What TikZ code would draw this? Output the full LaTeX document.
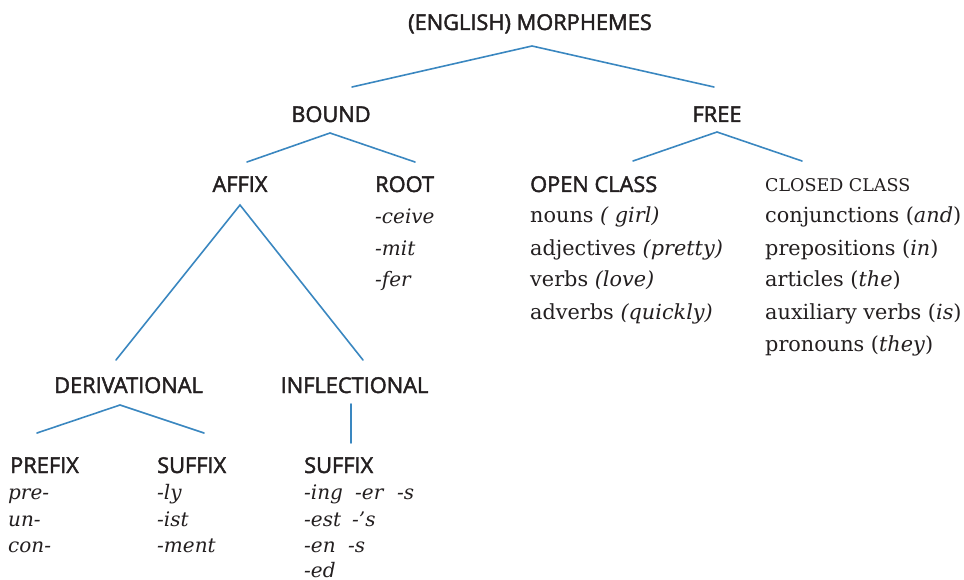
\documentclass[tikz,border=0pt]{standalone}
\usepackage{fontspec}
\setmainfont{DejaVu Serif}
\newfontfamily\headfam{Open Sans}[FakeBold=2]
\definecolor{ink}{HTML}{231F20}
\definecolor{linkblue}{HTML}{3A87C0}
\tikzset{
  head/.style={font=\headfam\fontsize{21.8}{26}\selectfont, text=ink, inner sep=0pt, anchor=base},
  headl/.style={head, anchor=base west},
  txt/.style={font=\fontsize{20.8}{24}\selectfont, text=ink, inner sep=0pt, anchor=base west},
  ex/.style={txt, font=\fontsize{20}{24}\selectfont\itshape},
  link/.style={draw=linkblue, line width=1.6pt, line cap=round},
}
\begin{document}
\begin{tikzpicture}[x=1pt,y=-1pt]
\useasboundingbox (0,0) rectangle (964,580);
% headings
\node[head] (title) at (530,30) {(ENGLISH) MORPHEMES};
\node[head] (bound) at (331,122) {BOUND};
\node[head] (free) at (717,122) {FREE};
\node[head] (affix) at (240,192) {AFFIX};
\node[headl] (root) at (375,192) {ROOT};
\node[headl] (open) at (530,192) {OPEN CLASS};
\node[txt, font=\fontsize{17.5}{22}\selectfont] (closed) at (765,192) {CLOSED CLASS};
\node[head] (deriv) at (128.5,393) {DERIVATIONAL};
\node[head] (infl) at (354.5,393) {INFLECTIONAL};
\node[headl] (prefix) at (10,473) {PREFIX};
\node[headl] (dsuffix) at (157,473) {SUFFIX};
\node[headl] (isuffix) at (304,473) {SUFFIX};
% root examples
\node[ex] (r1) at (375,224) {-ceive};
\node[ex] (r2) at (375,255) {-mit};
\node[ex] (r3) at (375,287) {-fer};
% open class
\node[txt] (o1) at (530,223) {nouns \textit{( girl)}};
\node[txt] (o2) at (530,255) {adjectives \textit{(pretty)}};
\node[txt] (o3) at (530,287) {verbs \textit{(love)}};
\node[txt] (o4) at (530,319) {adverbs \textit{(quickly)}};
% closed class
\node[txt] (c1) at (765,223) {conjunctions (\textit{and})};
\node[txt] (c2) at (765,255) {prepositions (\textit{in})};
\node[txt] (c3) at (765,287) {articles (\textit{the})};
\node[txt] (c4) at (765,319) {auxiliary verbs (\textit{is})};
\node[txt] (c5) at (765,351) {pronouns (\textit{they})};
% prefixes
\node[ex] (p1) at (8,499) {pre-};
\node[ex] (p2) at (8,526) {un-};
\node[ex] (p3) at (8,552) {con-};
% derivational suffixes
\node[ex] (s1) at (157,499) {-ly};
\node[ex] (s2) at (157,526) {-ist};
\node[ex] (s3) at (157,552) {-ment};
% inflectional suffixes
\node[ex] (i1) at (304,499) {-ing};
\node[ex] (i2) at (355,499) {-er};
\node[ex] (i3) at (397,499) {-s};
\node[ex] (i4) at (304,526) {-est};
\node[ex] (i5) at (352,526) {-’s};
\node[ex] (i6) at (304,552) {-en};
\node[ex] (i7) at (348,552) {-s};
\node[ex] (i8) at (304,577) {-ed};
% connector points
\coordinate (tA) at (532,46);  \coordinate (tL) at (352,87);  \coordinate (tR) at (714,87);
\coordinate (bA) at (330,133); \coordinate (bL) at (247,162); \coordinate (bR) at (415,162);
\coordinate (fA) at (717,132); \coordinate (fL) at (633,161); \coordinate (fR) at (802,161);
\coordinate (aA) at (240,205); \coordinate (aL) at (116,360); \coordinate (aR) at (363,360);
\coordinate (dA) at (120,405); \coordinate (dL) at (37,433);  \coordinate (dR) at (204,433);
\coordinate (iT) at (351,404); \coordinate (iB) at (351,443);
% connectors
\draw[link] (tL) -- (tA) -- (tR);
\draw[link] (bL) -- (bA) -- (bR);
\draw[link] (fL) -- (fA) -- (fR);
\draw[link] (aL) -- (aA) -- (aR);
\draw[link] (dL) -- (dA) -- (dR);
\draw[link] (iT) -- (iB);
\end{tikzpicture}
\end{document}
